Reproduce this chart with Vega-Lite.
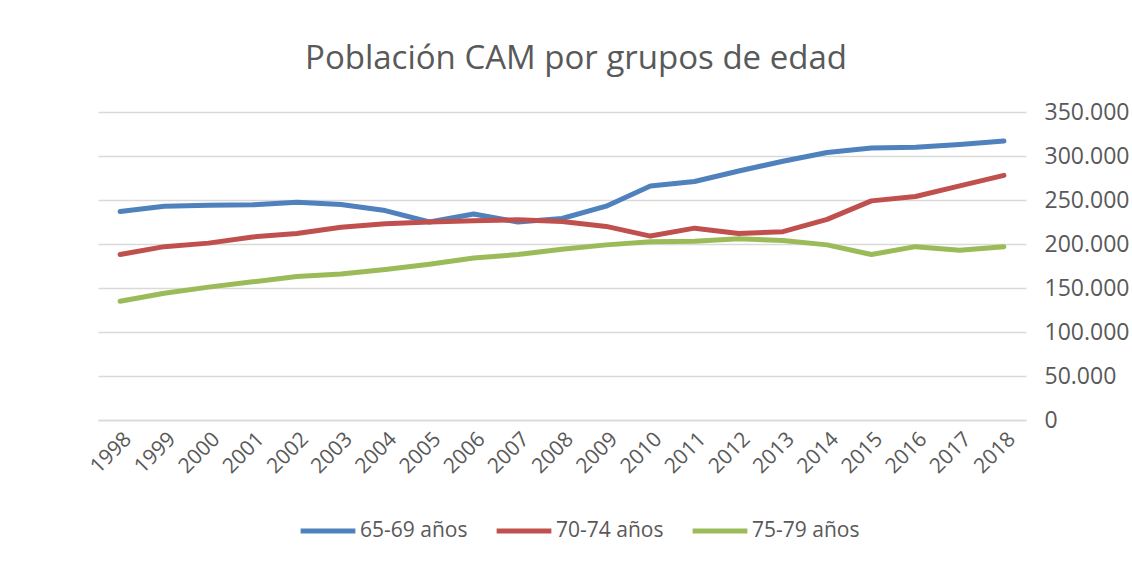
{
  "$schema": "https://vega.github.io/schema/vega-lite/v6.json",
  "width": 928,
  "height": 308,
  "autosize": {"type": "none"},
  "padding": {"left": 98, "top": 112, "right": 106, "bottom": 141},
  "background": "white",
  "title": {
    "text": "Población CAM por grupos de edad",
    "fontSize": 33,
    "font": "Open Sans",
    "fontWeight": "normal",
    "color": "#595959",
    "offset": 25,
    "dx": 14
  },
  "data": {
    "values": [
      {"year": "1998", "g": "65-69 años", "v": 237000},
      {"year": "1999", "g": "65-69 años", "v": 243000},
      {"year": "2000", "g": "65-69 años", "v": 244000},
      {"year": "2001", "g": "65-69 años", "v": 244500},
      {"year": "2002", "g": "65-69 años", "v": 247500},
      {"year": "2003", "g": "65-69 años", "v": 245000},
      {"year": "2004", "g": "65-69 años", "v": 238000},
      {"year": "2005", "g": "65-69 años", "v": 225000},
      {"year": "2006", "g": "65-69 años", "v": 234000},
      {"year": "2007", "g": "65-69 años", "v": 225000},
      {"year": "2008", "g": "65-69 años", "v": 229000},
      {"year": "2009", "g": "65-69 años", "v": 243000},
      {"year": "2010", "g": "65-69 años", "v": 266000},
      {"year": "2011", "g": "65-69 años", "v": 271000},
      {"year": "2012", "g": "65-69 años", "v": 283000},
      {"year": "2013", "g": "65-69 años", "v": 294000},
      {"year": "2014", "g": "65-69 años", "v": 304000},
      {"year": "2015", "g": "65-69 años", "v": 309000},
      {"year": "2016", "g": "65-69 años", "v": 310000},
      {"year": "2017", "g": "65-69 años", "v": 313000},
      {"year": "2018", "g": "65-69 años", "v": 317000},
      {"year": "1998", "g": "70-74 años", "v": 188000},
      {"year": "1999", "g": "70-74 años", "v": 197000},
      {"year": "2000", "g": "70-74 años", "v": 201000},
      {"year": "2001", "g": "70-74 años", "v": 208000},
      {"year": "2002", "g": "70-74 años", "v": 212000},
      {"year": "2003", "g": "70-74 años", "v": 219000},
      {"year": "2004", "g": "70-74 años", "v": 223000},
      {"year": "2005", "g": "70-74 años", "v": 225000},
      {"year": "2006", "g": "70-74 años", "v": 226500},
      {"year": "2007", "g": "70-74 años", "v": 227500},
      {"year": "2008", "g": "70-74 años", "v": 225500},
      {"year": "2009", "g": "70-74 años", "v": 220000},
      {"year": "2010", "g": "70-74 años", "v": 209000},
      {"year": "2011", "g": "70-74 años", "v": 218000},
      {"year": "2012", "g": "70-74 años", "v": 212000},
      {"year": "2013", "g": "70-74 años", "v": 214000},
      {"year": "2014", "g": "70-74 años", "v": 228000},
      {"year": "2015", "g": "70-74 años", "v": 249000},
      {"year": "2016", "g": "70-74 años", "v": 254000},
      {"year": "2017", "g": "70-74 años", "v": 266000},
      {"year": "2018", "g": "70-74 años", "v": 278000},
      {"year": "1998", "g": "75-79 años", "v": 135000},
      {"year": "1999", "g": "75-79 años", "v": 144000},
      {"year": "2000", "g": "75-79 años", "v": 151000},
      {"year": "2001", "g": "75-79 años", "v": 157000},
      {"year": "2002", "g": "75-79 años", "v": 163000},
      {"year": "2003", "g": "75-79 años", "v": 166000},
      {"year": "2004", "g": "75-79 años", "v": 171000},
      {"year": "2005", "g": "75-79 años", "v": 177000},
      {"year": "2006", "g": "75-79 años", "v": 184000},
      {"year": "2007", "g": "75-79 años", "v": 188000},
      {"year": "2008", "g": "75-79 años", "v": 194000},
      {"year": "2009", "g": "75-79 años", "v": 199000},
      {"year": "2010", "g": "75-79 años", "v": 202500},
      {"year": "2011", "g": "75-79 años", "v": 203000},
      {"year": "2012", "g": "75-79 años", "v": 206000},
      {"year": "2013", "g": "75-79 años", "v": 204000},
      {"year": "2014", "g": "75-79 años", "v": 199000},
      {"year": "2015", "g": "75-79 años", "v": 188000},
      {"year": "2016", "g": "75-79 años", "v": 197000},
      {"year": "2017", "g": "75-79 años", "v": 193000},
      {"year": "2018", "g": "75-79 años", "v": 197000}
    ]
  },
  "mark": {"type": "line", "strokeWidth": 5, "strokeCap": "round", "strokeJoin": "round"},
  "encoding": {
    "x": {
      "field": "year",
      "type": "ordinal",
      "scale": {"type": "point", "padding": 0.5},
      "axis": {
        "title": null,
        "labelAngle": -45,
        "labelFontSize": 21,
        "labelFont": "Open Sans",
        "labelColor": "#595959",
        "domainColor": "#d9d9d9",
        "domainWidth": 1.5,
        "ticks": false,
        "grid": false,
        "labelPadding": 8
      }
    },
    "y": {
      "field": "v",
      "type": "quantitative",
      "scale": {"domain": [0, 350000]},
      "axis": {
        "orient": "right",
        "title": null,
        "values": [0, 50000, 100000, 150000, 200000, 250000, 300000, 350000],
        "labelExpr": "replace(format(datum.value, ','), ',', '.')",
        "labelFontSize": 23,
        "labelFont": "Open Sans",
        "labelColor": "#595959",
        "domain": false,
        "ticks": false,
        "gridColor": "#d9d9d9",
        "gridWidth": 1.5,
        "labelPadding": 18
      }
    },
    "color": {
      "field": "g",
      "type": "nominal",
      "scale": {"domain": ["65-69 años", "70-74 años", "75-79 años"], "range": ["#4f81bd", "#c0504d", "#9bbb59"]},
      "legend": {
        "title": null,
        "orient": "none",
        "direction": "horizontal",
        "legendX": 200,
        "legendY": 389,
        "symbolType": "stroke",
        "symbolSize": 3000,
        "symbolStrokeWidth": 5,
        "labelFontSize": 21,
        "labelFont": "Open Sans",
        "labelColor": "#595959",
        "labelOffset": 2,
        "columnPadding": 18
      }
    }
  },
  "config": {"view": {"stroke": null}}
}
